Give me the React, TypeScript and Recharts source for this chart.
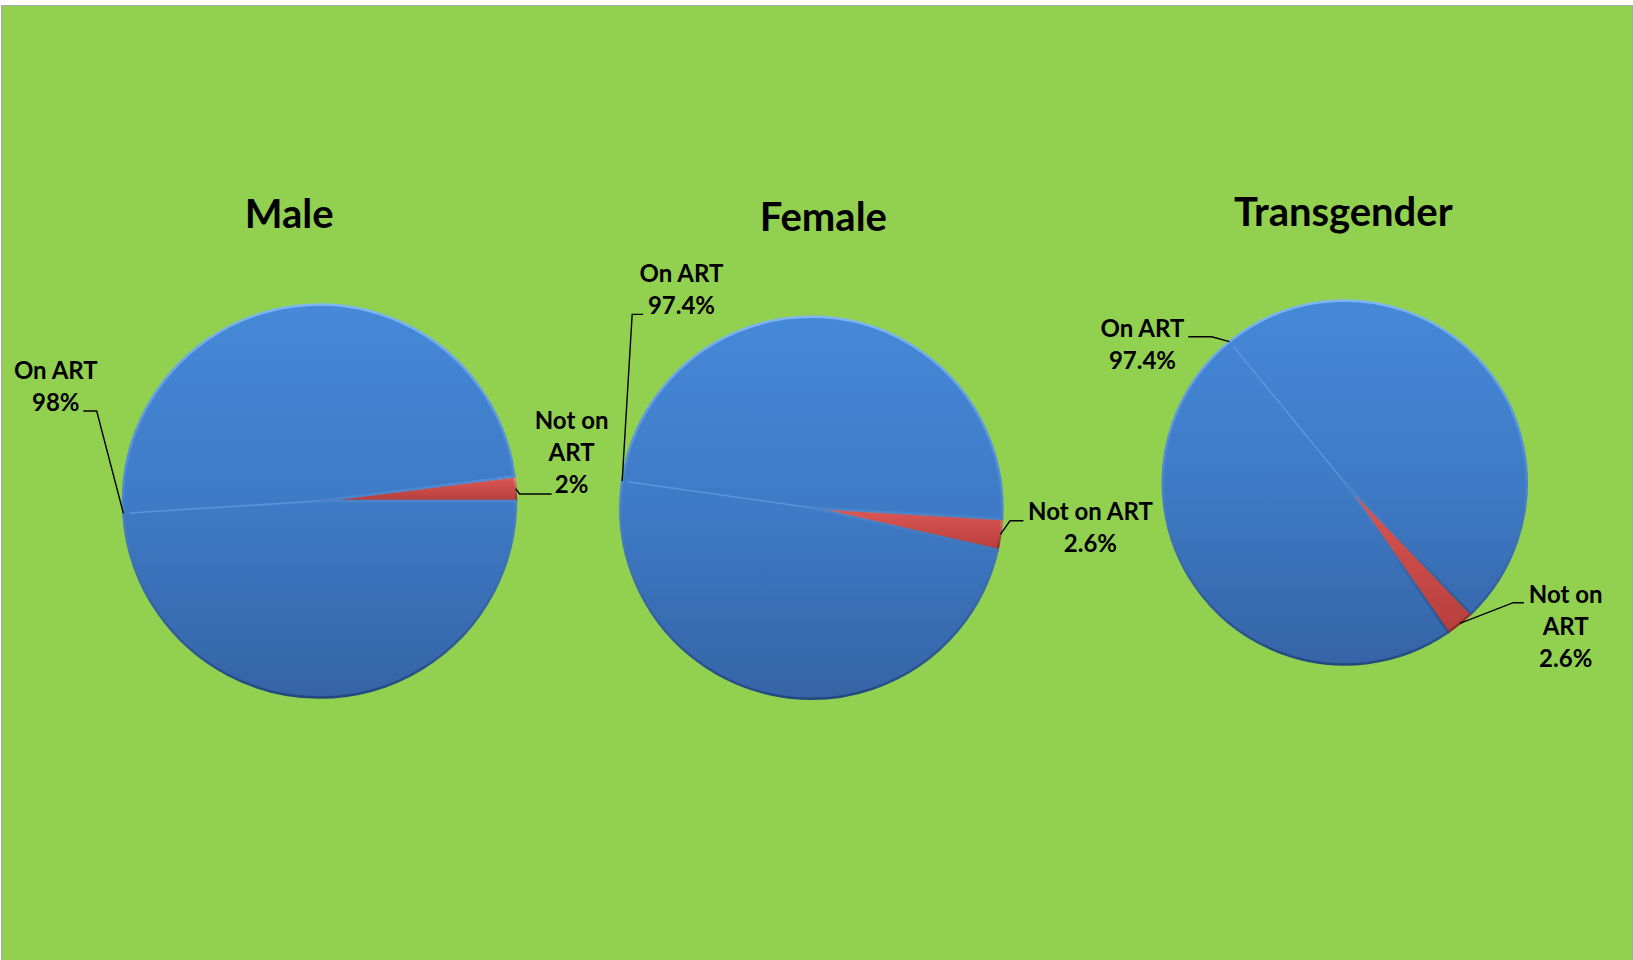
import React from 'react';
import { PieChart, Pie, Cell, Customized } from 'recharts';

// ---- data ----
const categories = ['Not on ART', 'On ART'];
const groupTitles = ['Male', 'Female', 'Transgender'];
const maleValues = [2, 98];
const femaleValues = [2.6, 97.4];
const transgenderValues = [2.6, 97.4];

const W = 1633;
const H = 960;
const FONT = 'Lato, "Open Sans", "DejaVu Sans", sans-serif';
const LABEL_SIZE = 24;
const LABEL_LINE = 32;
const TITLE_SIZE = 40;

const toData = (vals: number[]) => categories.map((name, i) => ({ name, value: vals[i] }));

type LabelLayout = {
  wrap: boolean;
  textDx: number;
  textDy: number;
  elbow: [number, number];
  end: [number, number];
};

type PieSpec = {
  title: string;
  values: number[];
  cx: number;
  cy: number;
  r: number;
  startAngle: number;
  titleX: number;
  titleY: number;
  labels: LabelLayout[];
};

const pies: PieSpec[] = [
  {
    title: groupTitles[0],
    values: maleValues,
    cx: 319.5,
    cy: 501,
    r: 196.5,
    startAngle: 0,
    titleX: 289.2,
    titleY: 227.5,
    labels: [
      { wrap: true, textDx: 56, textDy: -59.4, elbow: [4, 5.3], end: [36, 5.3] },
      { wrap: false, textDx: -67.6, textDy: -134, elbow: [-26.7, -102.3], end: [-40.1, -102.3] },
    ],
  },
  {
    title: groupTitles[1],
    values: femaleValues,
    cx: 811.3,
    cy: 507.7,
    r: 191,
    startAngle: -12.7,
    titleX: 823.3,
    titleY: 231,
    labels: [
      { wrap: false, textDx: 90, textDy: -14.3, elbow: [9.6, -13.6], end: [23, -13.6] },
      { wrap: false, textDx: 59.3, textDy: -199.3, elbow: [10, -166.7], end: [21, -166.7] },
    ],
  },
  {
    title: groupTitles[2],
    values: transgenderValues,
    cx: 1344.7,
    cy: 482.5,
    r: 182,
    startAngle: -55.4,
    titleX: 1343.3,
    titleY: 226,
    labels: [
      { wrap: true, textDx: 105.8, textDy: -20.1, elbow: [53.4, -20.7], end: [64, -20.7] },
      { wrap: false, textDx: -87, textDy: -4.3, elbow: [-17.8, -4.9], end: [-41.2, -4.9] },
    ],
  },
];

const FILLS = ['url(#redFill)', 'url(#blueFill)'];
const RIMS = ['url(#redRim)', 'url(#blueRim)'];

const wrapName = (name: string): string[] => {
  const i = name.lastIndexOf(' ');
  return i > 0 ? [name.slice(0, i), name.slice(i + 1)] : [name];
};

const makeLabel = (layouts: LabelLayout[]) => (props: any) => {
  const { cx, cy, midAngle, index, name, value, outerRadius } = props;
  const L = layouts[index];
  if (!L) return null;
  const rad = Math.PI / 180;
  const ax = cx + outerRadius * Math.cos(-midAngle * rad);
  const ay = cy + outerRadius * Math.sin(-midAngle * rad);
  const lines = L.wrap ? wrapName(String(name)) : [String(name)];
  lines.push(`${value}%`);
  const pts = [
    [ax, ay],
    [ax + L.elbow[0], ay + L.elbow[1]],
    [ax + L.end[0], ay + L.end[1]],
  ]
    .map((p) => p.join(','))
    .join(' ');
  return (
    <g>
      {index === 1 && (
        <line
          x1={cx}
          y1={cy}
          x2={cx + (outerRadius - 6) * Math.cos(-midAngle * rad)}
          y2={cy + (outerRadius - 6) * Math.sin(-midAngle * rad)}
          stroke="#6aa3e6"
          strokeOpacity={0.6}
          strokeWidth={1.6}
        />
      )}
      <polyline points={pts} fill="none" stroke="#000" strokeWidth={1.4} />
      <text
        textAnchor="middle"
        fontFamily={FONT}
        fontWeight={700}
        fontSize={LABEL_SIZE}
        fill="#000"
      >
        {lines.map((t, i) => (
          <tspan key={i} x={ax + L.textDx} y={ay + L.textDy + i * LABEL_LINE}>
            {t}
          </tspan>
        ))}
      </text>
    </g>
  );
};

const Titles = () => (
  <g>
    {pies.map((p) => (
      <text
        key={p.title}
        x={p.titleX}
        y={p.titleY}
        textAnchor="middle"
        fontFamily={FONT}
        fontWeight={700}
        fontSize={TITLE_SIZE}
        fill="#000"
      >
        {p.title}
      </text>
    ))}
  </g>
);

export default function App() {
  return (
    <div style={{ position: 'absolute', left: 0, top: 0, width: W, height: H, background: '#ffffff', overflow: 'hidden' }}>
      <div
        style={{
          position: 'absolute',
          left: 1,
          top: 5,
          width: W - 3,
          height: H - 5,
          background: '#92D050',
          borderTop: '1px solid #a8a8a8',
          borderLeft: '1px solid #a8a8a8',
          borderRight: '1px solid #a8a8a8',
        }}
      />
      <div style={{ position: 'absolute', left: 0, top: 0 }}>
        <PieChart width={W} height={H} margin={{ top: 0, right: 0, bottom: 0, left: 0 }}>
          <defs>
            <linearGradient id="blueFill" x1="0" y1="0" x2="0" y2="1">
              <stop offset="0%" stopColor="#4589d8" />
              <stop offset="50%" stopColor="#3e7ac6" />
              <stop offset="100%" stopColor="#3564a6" />
            </linearGradient>
            <linearGradient id="blueRim" x1="0" y1="0" x2="0" y2="1">
              <stop offset="0%" stopColor="#7db6f2" />
              <stop offset="45%" stopColor="#4f8ad2" />
              <stop offset="100%" stopColor="#23497f" />
            </linearGradient>
            <linearGradient id="redFill" x1="0" y1="0" x2="0" y2="1">
              <stop offset="0%" stopColor="#dc5855" />
              <stop offset="100%" stopColor="#b73f3c" />
            </linearGradient>
            <linearGradient id="redRim" x1="0" y1="0" x2="0" y2="1">
              <stop offset="0%" stopColor="#f08a86" />
              <stop offset="100%" stopColor="#8a2d2a" />
            </linearGradient>
          </defs>
          {pies.map((p) => (
            <Pie
              key={p.title}
              data={toData(p.values)}
              dataKey="value"
              nameKey="name"
              cx={p.cx}
              cy={p.cy}
              innerRadius={0}
              outerRadius={p.r}
              startAngle={p.startAngle}
              endAngle={p.startAngle + 360}
              paddingAngle={0}
              isAnimationActive={false}
              labelLine={false}
              label={makeLabel(p.labels)}
            >
              {categories.map((c, i) => (
                <Cell key={c} fill={FILLS[i]} stroke={RIMS[i]} strokeWidth={2.5} />
              ))}
            </Pie>
          ))}
          <Customized component={Titles} />
        </PieChart>
      </div>
    </div>
  );
}
